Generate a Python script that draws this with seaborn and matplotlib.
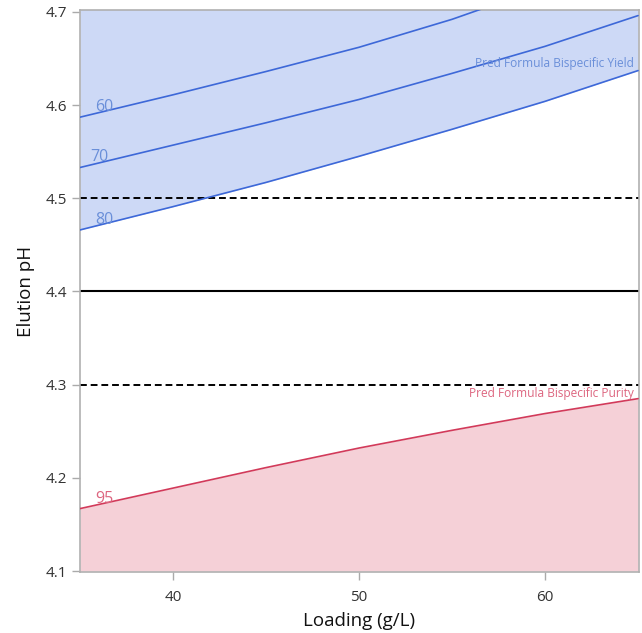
import matplotlib
matplotlib.use("Agg")
import matplotlib.pyplot as plt
import seaborn as sns
import pandas as pd
import numpy as np

# Data
loading = [35, 40, 45, 50, 55, 60, 65]
yield_60 = [4.587, 4.611, 4.636, 4.662, 4.692, 4.727, 4.762]
yield_70 = [4.533, 4.557, 4.581, 4.606, 4.634, 4.663, 4.696]
yield_80 = [4.466, 4.491, 4.517, 4.545, 4.574, 4.604, 4.637]
purity_95 = [4.167, 4.189, 4.211, 4.232, 4.251, 4.269, 4.285]
ref_solid = 4.4
ref_dashed = [4.5, 4.3]
x_ticks = [40, 50, 60]
y_ticks = [4.1, 4.2, 4.3, 4.4, 4.5, 4.6, 4.7]

sns.set_style("white")
plt.rcParams['font.family'] = ['Open Sans', 'DejaVu Sans']

fig = plt.figure(figsize=(6.42, 6.33), dpi=100)
ax = fig.add_axes([0.1246, 0.0964, 0.8707, 0.8878])

ylo, yhi = 4.099, 4.702
blue_line = "#3d68d8"
blue_fill = "#cdd9f6"
blue_text = "#6a8fd9"
red_line = "#d23a5a"
red_fill = "#f5d0d7"
red_text = "#dd6680"

ax.fill_between(loading, yield_80, yhi + 0.01, color=blue_fill, lw=0, zorder=1)
ax.fill_between(loading, ylo + 0.001, purity_95, color=red_fill, lw=0, zorder=1)

df = pd.DataFrame({
    "Loading": loading * 4,
    "pH": yield_60 + yield_70 + yield_80 + purity_95,
    "curve": ["60"] * 7 + ["70"] * 7 + ["80"] * 7 + ["95"] * 7,
})
sns.lineplot(data=df, x="Loading", y="pH", hue="curve",
             palette={"60": blue_line, "70": blue_line, "80": blue_line, "95": red_line},
             lw=1.2, legend=False, ax=ax, zorder=3)

ax.axhline(ref_solid, color="black", lw=1.5, zorder=2)
for v in ref_dashed:
    ax.axhline(v, color="black", lw=1.4, ls=(0, (3.5, 2)), zorder=2)

# contour labels (placed on the curve near its left end)
lab_x = 36.3
for lab, ys, col in [("60", yield_60, blue_text), ("70", yield_70, blue_text),
                     ("80", yield_80, blue_text), ("95", purity_95, red_text)]:
    yv = np.interp(lab_x, loading, ys)
    xx = lab_x - 0.25 if lab == "70" else lab_x
    ax.text(xx, yv + 0.0045, lab, color=col, fontsize=11.5,
            ha="center", va="center", zorder=4)

ax.text(64.8, 4.6445, "Pred Formula Bispecific Yield", color=blue_text,
        fontsize=8.6, ha="right", va="center", zorder=4)
ax.text(64.8, 4.291, "Pred Formula Bispecific Purity", color=red_text,
        fontsize=8.6, ha="right", va="center", zorder=4)

ax.set_xlim(35, 65.05)
ax.set_ylim(ylo, yhi)
ax.set_xticks(x_ticks)
ax.set_yticks(y_ticks)
ax.set_xticklabels([str(t) for t in x_ticks])
ax.set_yticklabels([f"{t:.1f}" for t in y_ticks])
ax.tick_params(axis="both", which="both", direction="out", length=6,
               width=1, color="#aaaaaa", labelsize=11, labelcolor="#333333",
               bottom=True, left=True)
ax.tick_params(axis="x", pad=7)
ax.tick_params(axis="y", pad=3)
for s in ax.spines.values():
    s.set_color("#b0b0b0")
    s.set_linewidth(1.2)

ax.set_xlabel("Loading (g/L)", fontsize=13.5, color="#111111", labelpad=5)
ax.set_ylabel("Elution pH", fontsize=13.5, color="#111111", labelpad=8)

fig.savefig("out.png", dpi=100)
